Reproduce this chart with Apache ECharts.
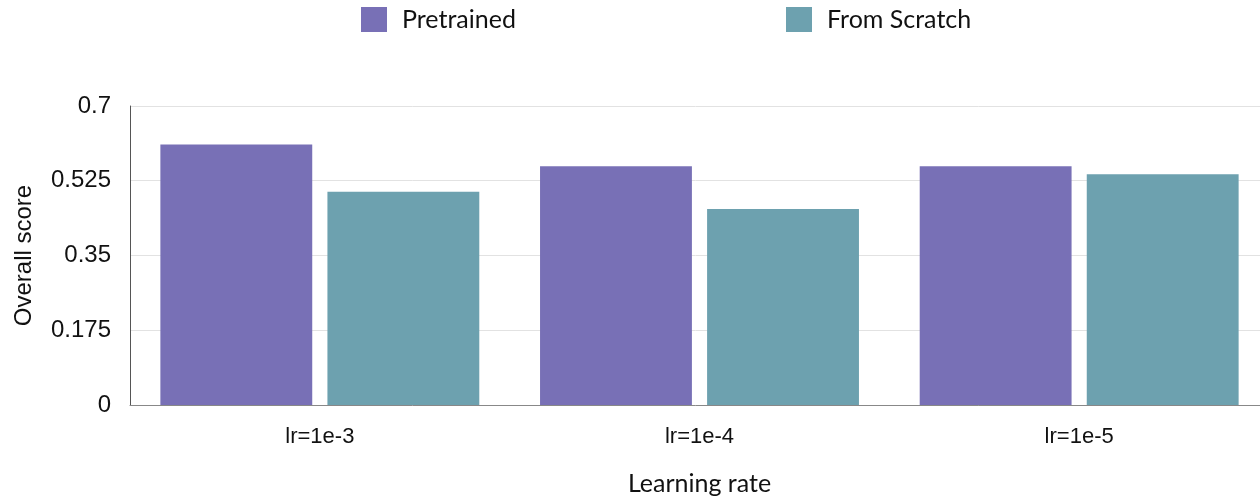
<!DOCTYPE html>
<html>
<head>
<meta charset="utf-8">
<script src="https://cdn.jsdelivr.net/npm/echarts@6/dist/echarts.min.js"></script>
<style>html,body{margin:0;padding:0;background:#fff}#c{width:1260px;height:501px}</style>
</head>
<body>
<div id="c"></div>
<script>
const categories = ['lr=1e-3', 'lr=1e-4', 'lr=1e-5'];
const pretrained = [0.610, 0.559, 0.559];
const fromScratch = [0.499, 0.459, 0.540];
const seriesNames = ['Pretrained', 'From Scratch'];
const colors = ['#7870B6', '#6DA1AF'];
const SANS = '"Liberation Sans", Arial, sans-serif';
const GEO = 'Lato, "Noto Sans", sans-serif';

const chart = echarts.init(document.getElementById('c'), null, {renderer: 'canvas'});
const legendBase = {
  top: 2, itemWidth: 26, itemHeight: 25, icon: 'rect',
  textStyle: {fontFamily: GEO, fontSize: 25, color: '#111', padding: [0, 0, 0, 10]}
};
chart.setOption({
  animation: false,
  color: colors,
  legend: [
    Object.assign({}, legendBase, {left: 356, data: [seriesNames[0]]}),
    Object.assign({}, legendBase, {left: 781, data: [seriesNames[1]]})
  ],
  grid: {left: 130, width: 1139, top: 106, height: 299, containLabel: false, outerBoundsMode: 'none'},
  xAxis: {
    type: 'category', data: categories,
    name: 'Learning rate', nameLocation: 'middle', nameGap: 66,
    nameTextStyle: {fontFamily: GEO, fontSize: 25, color: '#111'},
    axisLine: {show: true, lineStyle: {color: '#888', width: 1}},
    axisTick: {show: false},
    axisLabel: {fontFamily: SANS, fontSize: 22, color: '#111', margin: 21}
  },
  yAxis: {
    type: 'value', min: 0, max: 0.7, interval: 0.175,
    name: 'Overall score', nameLocation: 'middle', nameGap: 94, nameRotate: 90,
    nameTextStyle: {fontFamily: SANS, fontSize: 24, color: '#111'},
    axisLine: {show: true, lineStyle: {color: '#555', width: 1}},
    axisTick: {show: false},
    axisLabel: {fontFamily: SANS, fontSize: 24, color: '#111', margin: 19},
    splitLine: {show: true, lineStyle: {color: '#e2e2e2', width: 1}}
  },
  series: [
    {name: seriesNames[0], type: 'bar', data: pretrained, barWidth: '40%', barGap: '10%', itemStyle: {color: colors[0]}},
    {name: seriesNames[1], type: 'bar', data: fromScratch, barWidth: '40%', barGap: '10%', itemStyle: {color: colors[1]}}
  ]
});
</script>
</body>
</html>
